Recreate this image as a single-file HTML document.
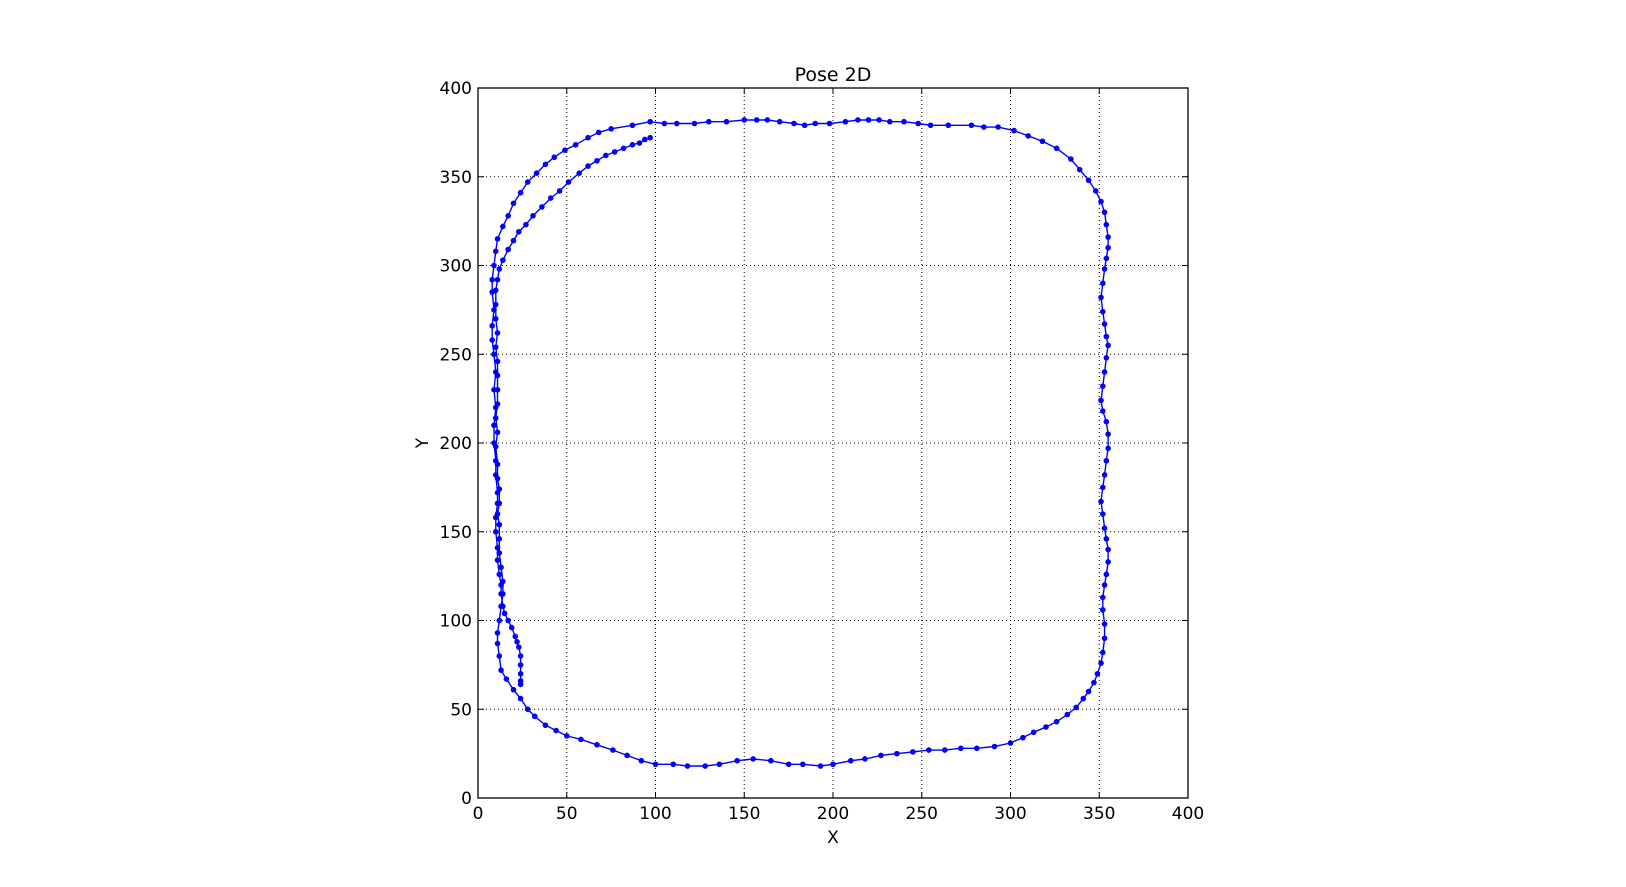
<!DOCTYPE html>
<html><head><meta charset="utf-8"><style>
body{margin:0;background:#fff;}
svg{display:block;font-family:"DejaVu Sans","Liberation Sans",sans-serif;}
</style></head><body>
<svg id="chart" width="1626" height="887"></svg>
<script>
const xTicks=[0,50,100,150,200,250,300,350,400];
const yTicks=[0,50,100,150,200,250,300,350,400];
const xs=[24,24,24,24,24,23,22,21,19,17,15,14,13,13,12,11,11,10,10,11,11,10,10,9,9,10,9,10,9,8,8,9,8,8,9,10,11,14,17,20,24,28,33,38,43,49,55,62,68,75,87,97,105,112,122,130,140,150,157,163,170,178,184,190,198,207,214,220,226,232,240,248,255,265,278,285,293,302,310,318,326,334,339,344,348,351,353,354,355,355,354,353,352,351,352,353,354,355,354,353,352,351,352,354,355,355,354,353,352,351,352,353,354,355,355,354,353,352,352,353,353,352,351,349,347,344,341,337,332,326,320,313,307,300,291,281,272,263,254,245,236,227,218,210,200,193,183,175,165,155,146,136,128,118,110,100,92,84,76,67,58,50,44,38,32,28,24,20,16,13,12,11,11,12,13,14,14,13,12,12,12,11,12,12,11,11,10,11,10,11,11,11,11,10,11,10,10,10,11,12,14,17,20,23,27,31,36,41,46,51,57,62,67,72,77,82,87,91,94,97];
const ys=[64,66,70,75,80,85,88,91,96,100,104,108,115,120,126,134,141,150,158,166,172,182,190,200,210,220,230,240,250,258,266,275,285,292,300,308,315,322,328,335,341,347,352,357,361,365,368,372,375,377,379,381,380,380,380,381,381,382,382,382,381,380,379,380,380,381,382,382,382,381,381,380,379,379,379,378,378,376,373,370,366,360,354,348,342,336,330,323,316,310,304,298,290,282,274,267,260,255,248,240,232,224,218,212,205,197,190,182,175,167,160,152,146,140,133,126,120,113,106,98,90,82,76,70,65,60,56,51,47,43,40,37,34,31,29,28,28,27,27,26,25,24,22,21,19,18,19,19,21,22,21,19,18,18,19,19,21,24,27,30,33,35,38,41,46,50,56,61,67,72,80,87,93,100,108,115,122,130,138,146,154,160,166,174,180,188,198,206,214,222,230,238,246,254,262,270,278,286,292,298,303,309,314,319,323,328,333,338,342,347,352,356,359,362,364,366,368,369,371,372];
const NS="http://www.w3.org/2000/svg";
const svg=document.getElementById('chart');
const L=478,R=1188,T=88,B=798;
const sx=v=>L+(v-0)/400*(R-L);
const sy=v=>B-(v-0)/400*(B-T);
function mk(tag,attrs,parent){const e=document.createElementNS(NS,tag);for(const k in attrs)e.setAttribute(k,attrs[k]);(parent||svg).appendChild(e);return e;}
xTicks.forEach(t=>{
 const g=mk('line',{x1:sx(t),x2:sx(t),y1:T,y2:B,stroke:'#000','stroke-dasharray':'1,3','stroke-width':1});
 
 
 const tk=mk('line',{x1:sx(t),x2:sx(t),y1:B,y2:B-6,stroke:'#000'});
 
 
 const tk2=mk('line',{x1:sx(t),x2:sx(t),y1:T,y2:T+6,stroke:'#000'});
 
 
 const lb=mk('text',{x:sx(t),y:B+21,'text-anchor':'middle','font-size':17});
 lb.textContent=t;
 
 
});
yTicks.forEach(t=>{
 const g=mk('line',{x1:L,x2:R,y1:sy(t),y2:sy(t),stroke:'#000','stroke-dasharray':'1,3','stroke-width':1});
 
 
 const tk=mk('line',{x1:L,x2:L+6,y1:sy(t),y2:sy(t),stroke:'#000'});
 
 
 const tk2=mk('line',{x1:R,x2:R-6,y1:sy(t),y2:sy(t),stroke:'#000'});
 
 
 const lb=mk('text',{x:L-6,y:sy(t)+6,'text-anchor':'end','font-size':17});
 lb.textContent=t;
 
 
});
const frame=mk('rect',{x:L,y:T,width:R-L,height:B-T,fill:'none',stroke:'#000','stroke-width':1.3});


const pts=xs.map((x,i)=>sx(x).toFixed(1)+','+sy(ys[i]).toFixed(1)).join(' ');
const line=mk('polyline',{points:pts,fill:'none',stroke:'#0000ff','stroke-width':1.4});


xs.forEach((x,i)=>{
 const c=mk('circle',{cx:sx(x),cy:sy(ys[i]),r:2.8,fill:'#0000ff'});
 
 
});
const title=mk('text',{x:(L+R)/2,y:81,'text-anchor':'middle','font-size':19});
title.textContent='Pose 2D';


const xl=mk('text',{x:(L+R)/2,y:843,'text-anchor':'middle','font-size':17});
xl.textContent='X';


const yl=mk('text',{x:428,y:443,'text-anchor':'middle','font-size':17,transform:'rotate(-90 428 443)'});
yl.textContent='Y';


</script>
</body></html>
